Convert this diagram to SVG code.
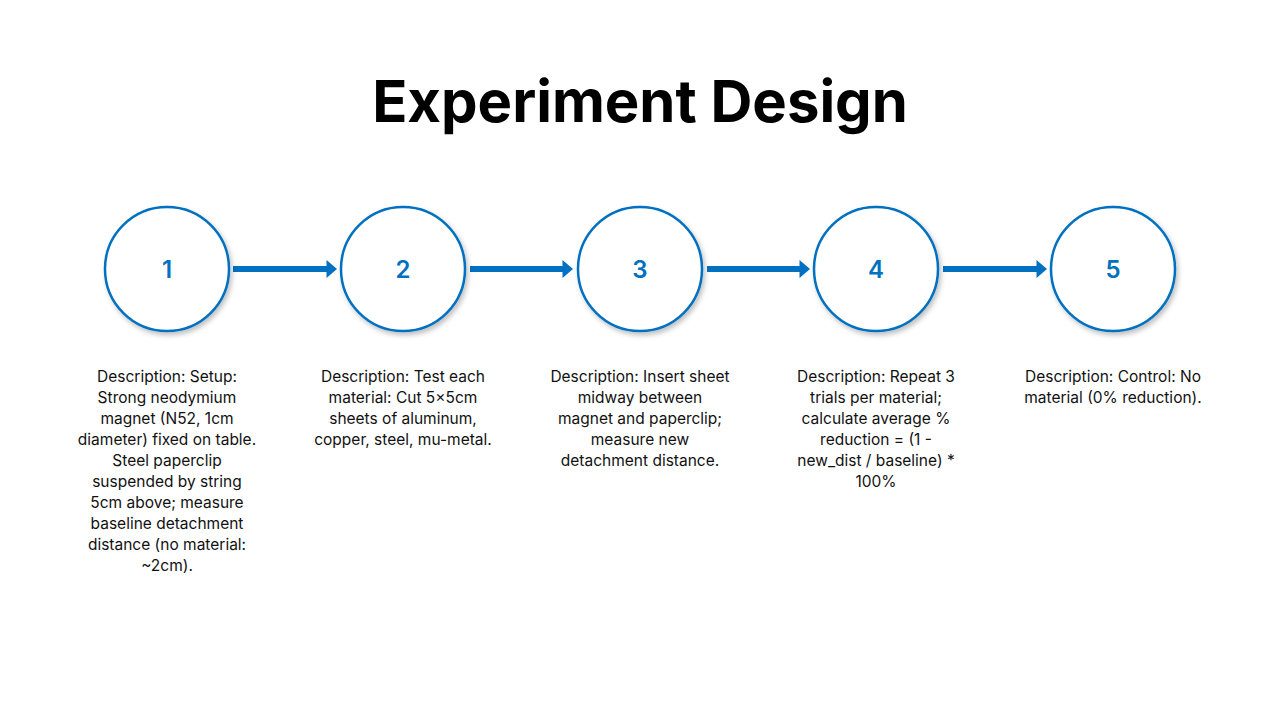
<svg xmlns="http://www.w3.org/2000/svg" width="1280" height="720" viewBox="0 0 1280 720">
<style>
.c{fill:#fff;stroke:#0070C0;stroke-width:2.5;filter:url(#sh)}
.n{font-family:"Inter","Liberation Sans",sans-serif;font-size:24px;font-weight:600;fill:#0070C0;text-anchor:middle}
.d{font-family:"Inter","Liberation Sans",sans-serif;font-size:15.5px;fill:#111;text-anchor:middle}
.a{stroke:#0070C0;stroke-width:6;fill:none;marker-end:url(#ah)}
</style>
<defs>
<filter id="sh" x="-20%" y="-20%" width="140%" height="140%"><feDropShadow dx="2" dy="3" stdDeviation="2.5" flood-color="#000" flood-opacity="0.25"/></filter>
<marker id="ah" markerWidth="3" markerHeight="3" refX="0.2" refY="1.2" orient="auto" markerUnits="strokeWidth" viewBox="0 0 1.4 2.4"><path d="M0,0 L1.4,1.2 L0,2.4 Z" fill="#0070C0"/></marker>
</defs>
<rect width="1280" height="720" fill="#fff"/>
<text x="640" y="122" font-family="Inter,'Liberation Sans',sans-serif" font-size="58" font-weight="700" text-anchor="middle" fill="#000">Experiment Design</text>
<g id="connectors">
<line class="a" x1="233" y1="269" x2="328" y2="269"/>
<line class="a" x1="470" y1="269" x2="564" y2="269"/>
<line class="a" x1="707" y1="269" x2="801" y2="269"/>
<line class="a" x1="943" y1="269" x2="1038" y2="269"/>
</g>
<g id="node1"><circle class="c" cx="167" cy="269" r="62"/><text class="n" x="167" y="278">1</text>
<text class="d" y="382"><tspan x="167">Description: Setup:</tspan><tspan x="167" dy="21">Strong neodymium</tspan><tspan x="167" dy="21">magnet (N52, 1cm</tspan><tspan x="167" dy="21">diameter) fixed on table.</tspan><tspan x="167" dy="21">Steel paperclip</tspan><tspan x="167" dy="21">suspended by string</tspan><tspan x="167" dy="21">5cm above; measure</tspan><tspan x="167" dy="21">baseline detachment</tspan><tspan x="167" dy="21">distance (no material:</tspan><tspan x="167" dy="21">~2cm).</tspan></text></g>
<g id="node2"><circle class="c" cx="403" cy="269" r="62"/><text class="n" x="403" y="278">2</text>
<text class="d" y="382"><tspan x="403">Description: Test each</tspan><tspan x="403" dy="21">material: Cut 5×5cm</tspan><tspan x="403" dy="21">sheets of aluminum,</tspan><tspan x="403" dy="21">copper, steel, mu-metal.</tspan></text></g>
<g id="node3"><circle class="c" cx="640" cy="269" r="62"/><text class="n" x="640" y="278">3</text>
<text class="d" y="382"><tspan x="640">Description: Insert sheet</tspan><tspan x="640" dy="21">midway between</tspan><tspan x="640" dy="21">magnet and paperclip;</tspan><tspan x="640" dy="21">measure new</tspan><tspan x="640" dy="21">detachment distance.</tspan></text></g>
<g id="node4"><circle class="c" cx="876" cy="269" r="62"/><text class="n" x="876" y="278">4</text>
<text class="d" y="382"><tspan x="876">Description: Repeat 3</tspan><tspan x="876" dy="21">trials per material;</tspan><tspan x="876" dy="21">calculate average %</tspan><tspan x="876" dy="21">reduction = (1 -</tspan><tspan x="876" dy="21">new_dist / baseline) *</tspan><tspan x="876" dy="21">100%</tspan></text></g>
<g id="node5"><circle class="c" cx="1113" cy="269" r="62"/><text class="n" x="1113" y="278">5</text>
<text class="d" y="382"><tspan x="1113">Description: Control: No</tspan><tspan x="1113" dy="21">material (0% reduction).</tspan></text></g>
</svg>
